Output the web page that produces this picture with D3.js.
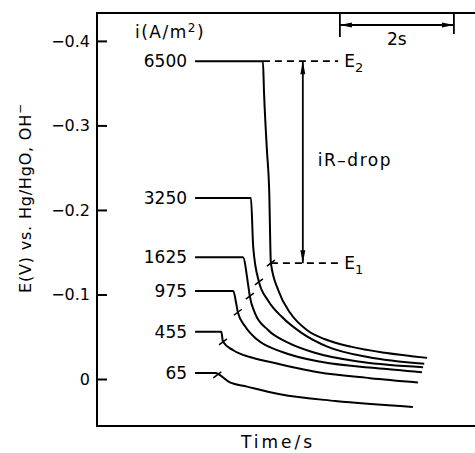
<!DOCTYPE html>
<html>
<head>
  <meta charset="utf-8">
  <script src="https://d3js.org/d3.v7.min.js"></script>
  <style>
    body { margin: 0; background: #fff; }
    text { font-family: "DejaVu Sans", sans-serif; fill: #000; }
    .curve { fill: none; stroke: #000; stroke-width: 2px; }
  </style>
</head>
<body>
<svg width="475" height="453"></svg>
<script>
  // current densities (A/m2) and traces: time (s), E (V)
  const currents = [6500, 3250, 1625, 975, 455, 65];
  const t6500 = [1.72, 2.91, 2.93, 2.98, 3.02, 3.05, 3.18, 3.39, 3.68, 4.00, 4.47, 5.05, 5.79];
  const e6500 = [-0.376, -0.376, -0.338, -0.271, -0.224, -0.137, -0.105, -0.078, -0.058, -0.047, -0.038, -0.031, -0.025];
  const t3250 = [1.72, 2.70, 2.74, 2.84, 3.00, 3.25, 3.60, 4.05, 4.75, 5.74];
  const e3250 = [-0.214, -0.214, -0.156, -0.115, -0.093, -0.073, -0.054, -0.038, -0.026, -0.018];
  const t1625 = [1.72, 2.56, 2.65, 2.68, 2.77, 3.00, 3.35, 3.82, 4.65, 5.72];
  const e1625 = [-0.144, -0.144, -0.112, -0.098, -0.078, -0.058, -0.043, -0.031, -0.020, -0.014];
  const t975 = [1.72, 2.39, 2.44, 2.47, 2.60, 2.82, 3.25, 3.95, 4.88, 5.70];
  const e975 = [-0.104, -0.104, -0.090, -0.079, -0.062, -0.046, -0.032, -0.020, -0.013, -0.008];
  const t455 = [1.72, 2.18, 2.21, 2.39, 2.68, 3.04, 3.88, 4.79, 5.63];
  const e455 = [-0.056, -0.056, -0.044, -0.034, -0.026, -0.020, -0.008, -0.001, 0.004];
  const t65 = [1.72, 2.07, 2.33, 2.63, 3.21, 4.18, 5.54];
  const e65 = [-0.007, -0.007, 0.004, 0.009, 0.018, 0.026, 0.033];

  // small cross marks on each curve
  const markT = [3.05, 2.84, 2.68, 2.47, 2.21, 2.11];
  const markE = [-0.137, -0.115, -0.098, -0.079, -0.044, -0.005];

  const yTicks = [-0.4, -0.3, -0.2, -0.1, 0];
  const e2Level = -0.376, e1Level = -0.137;
  const iRTime = 3.61;
  const dashEnd = 4.23;
  const barStart = 4.26, barLen = 2;

  const svg = d3.select("svg");

  const x = d3.scaleLinear().domain([0, 6.63]).range([97, 475]);
  const y = d3.scaleLinear().domain([0.0556, -0.433]).range([426, 13]);

  // Frame: left, top and bottom
  const fLeft = x(0), fRight = x(6.63), fTop = y(-0.433), fBottom = y(0.0556);
  svg.append("path")
    .attr("d", `M${fRight},${fTop}H${fLeft}V${fBottom}H${fRight}`)
    .attr("fill", "none").attr("stroke", "#000").attr("stroke-width", 2);

  // Y axis, ticks pointing inward
  const yAxis = svg.append("g")
    .attr("transform", `translate(${fLeft},0)`)
    .call(d3.axisLeft(y).tickValues(yTicks).tickSize(-10).tickPadding(7)
      .tickFormat(d => d === 0 ? "0" : d3.format(".1f")(d)));
  yAxis.select(".domain").remove();
  yAxis.selectAll("line").attr("stroke-width", 2);
  yAxis.selectAll("text").attr("font-size", 16).attr("font-family", "DejaVu Sans");

  svg.append("text")
    .attr("transform", `translate(31,198) rotate(-90)`)
    .attr("text-anchor", "middle")
    .attr("font-size", 16).attr("letter-spacing", 0.8)
    .html("E(V) vs. Hg/HgO, OH<tspan dy='-7' font-size='12'>&#8722;</tspan>");

  svg.append("text")
    .attr("x", 278).attr("y", 448)
    .attr("text-anchor", "middle")
    .attr("font-size", 17).attr("letter-spacing", 3)
    .text("Time/s");

  svg.append("text")
    .attr("x", 135).attr("y", 38)
    .attr("font-size", 17).attr("letter-spacing", 1.5)
    .html("i(A/m<tspan dy='-6' font-size='12'>2</tspan><tspan dy='6'>)</tspan>");

  // Curves
  const traces = [[t6500, e6500], [t3250, e3250], [t1625, e1625], [t975, e975], [t455, e455], [t65, e65]];
  const line = d3.line()
    .x(d => x(d[0]))
    .y(d => y(d[1]))
    .curve(d3.curveMonotoneX);

  traces.forEach((tr, i) => {
    const pts = tr[0].map((t, j) => [t, tr[1][j]]);
    svg.append("path").attr("class", "curve").attr("d", line(pts));
    svg.append("text")
      .attr("x", x(tr[0][0]) - 8).attr("y", y(tr[1][0]))
      .attr("dy", "0.36em")
      .attr("text-anchor", "end")
      .attr("font-size", 17)
      .text(currents[i]);
    const mx = x(markT[i]), my = y(markE[i]);
    svg.append("line")
      .attr("x1", mx - 4).attr("y1", my + 3)
      .attr("x2", mx + 4).attr("y2", my - 3)
      .attr("stroke", "#000").attr("stroke-width", 1.5);
  });

  // E2 / E1 dashed levels
  [[t6500[1], e2Level, "2"], [markT[0], e1Level, "1"]].forEach(d => {
    svg.append("line")
      .attr("x1", x(d[0])).attr("x2", x(dashEnd))
      .attr("y1", y(d[1])).attr("y2", y(d[1]))
      .attr("stroke", "#000").attr("stroke-width", 1.8)
      .attr("stroke-dasharray", "7,5");
    svg.append("text")
      .attr("x", x(dashEnd) + 6).attr("y", y(d[1]) + 6)
      .attr("font-size", 17)
      .html(`E<tspan dy='5' font-size='13'>${d[2]}</tspan>`);
  });

  // iR-drop double arrow
  const ax = x(iRTime), ay1 = y(e2Level), ay2 = y(e1Level);
  svg.append("line")
    .attr("x1", ax).attr("x2", ax).attr("y1", ay1).attr("y2", ay2)
    .attr("stroke", "#000").attr("stroke-width", 1.8);
  svg.append("path")
    .attr("d", `M${ax},${ay1}l-2.5,13h5z M${ax},${ay2}l-2.5,-13h5z`)
    .attr("fill", "#000");
  svg.append("text")
    .attr("x", ax + 15).attr("y", (ay1 + ay2) / 2 - 2)
    .attr("dy", "0.36em")
    .attr("font-size", 17).attr("letter-spacing", 1.5)
    .text("iR\u2013drop");

  // 2 s scale bar
  const bx1 = x(barStart), bx2 = x(barStart + barLen), by = fTop + 12;
  svg.append("path")
    .attr("d", `M${bx1},${fTop}V${fTop + 24} M${bx2},${fTop}V${fTop + 21} M${bx1},${by}H${bx2}`)
    .attr("fill", "none").attr("stroke", "#000").attr("stroke-width", 1.8);
  svg.append("path")
    .attr("d", `M${bx1},${by}l12,-2.5v5z M${bx2},${by}l-12,-2.5v5z`)
    .attr("fill", "#000");
  svg.append("text")
    .attr("x", (bx1 + bx2) / 2).attr("y", fTop + 32)
    .attr("text-anchor", "middle")
    .attr("font-size", 17)
    .text("2s");
</script>
</body>
</html>
